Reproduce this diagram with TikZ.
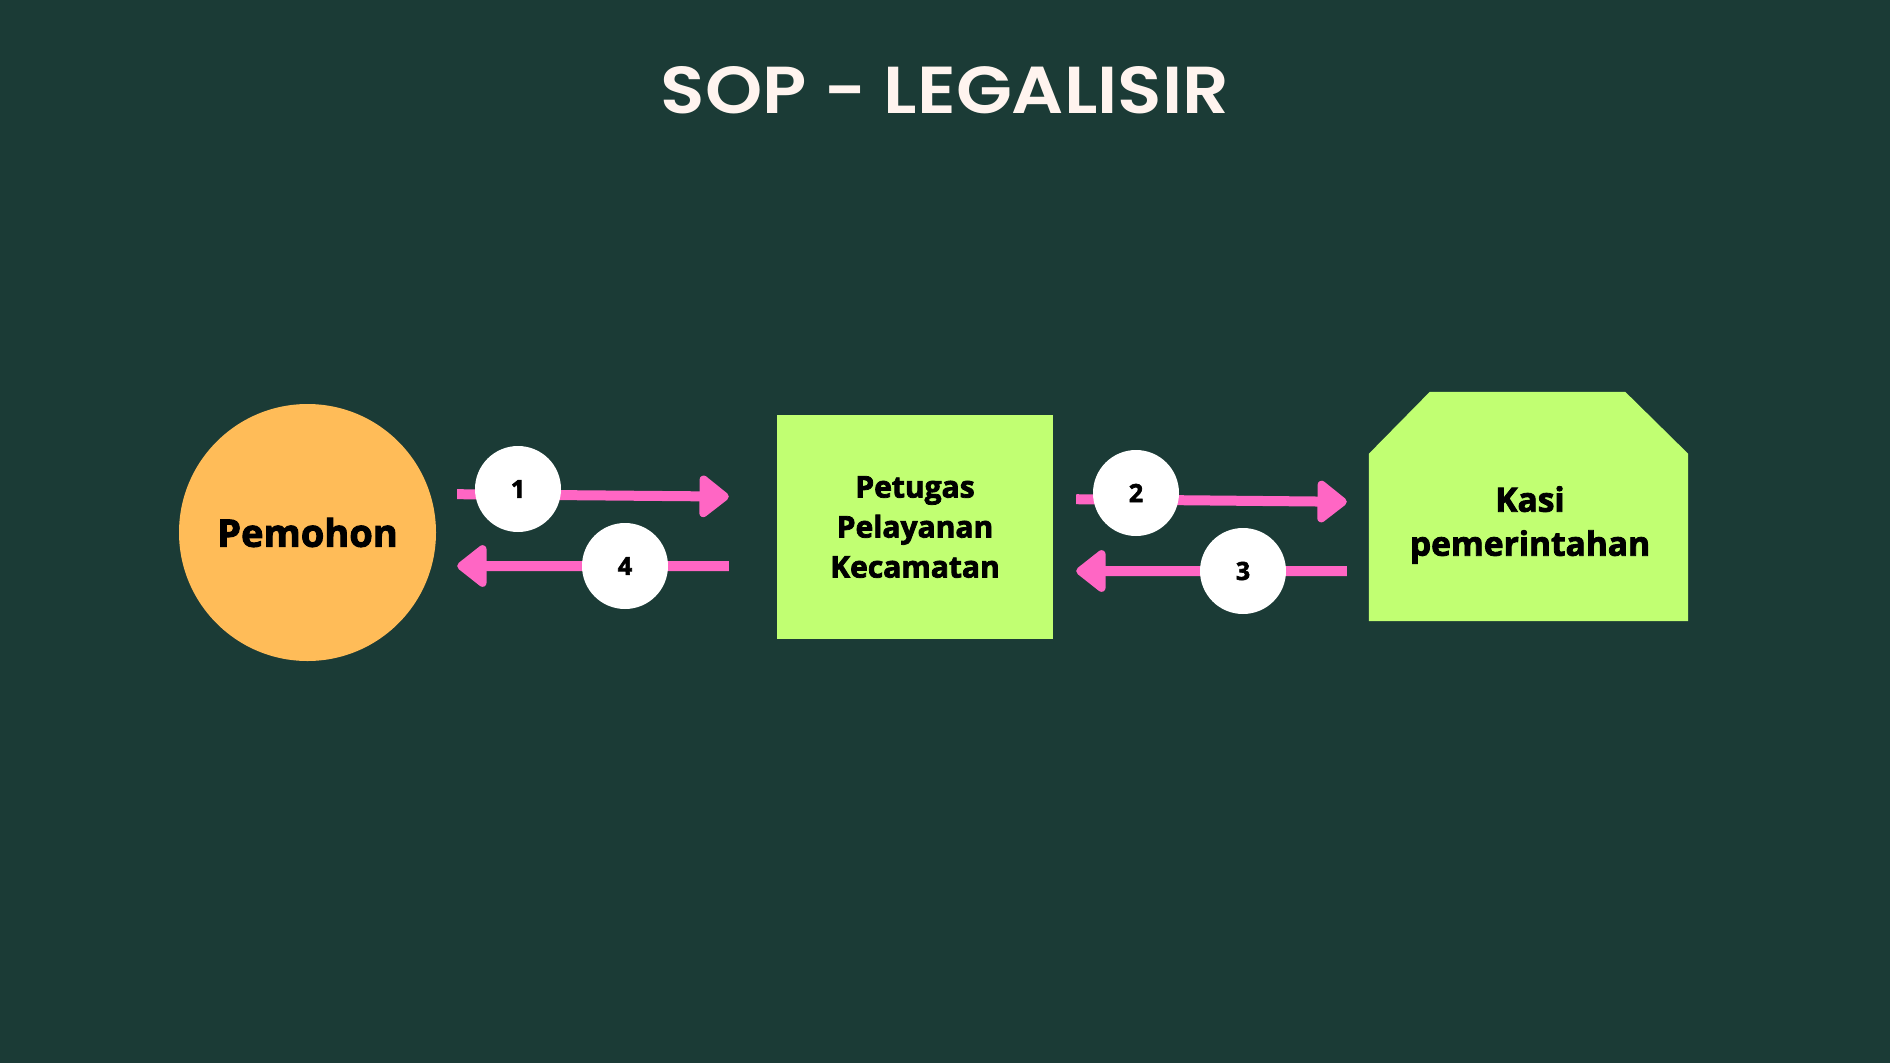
\documentclass[tikz,border=0pt]{standalone}
\usepackage{fontspec}
\setmainfont{Open Sans}[BoldFeatures={FakeBold=2.5}]
\newfontfamily\titlefont{Poppins}[UprightFont={* SemiBold}]
\usetikzlibrary{arrows.meta}
\definecolor{bg}{HTML}{1B3B36}
\definecolor{orangec}{HTML}{FFBC58}
\definecolor{limec}{HTML}{C1FF72}
\definecolor{pinkc}{HTML}{FF66C4}
\definecolor{titlec}{HTML}{FFF4EF}
\tikzset{
  flow/.style={draw=pinkc, line width=10bp, -{Triangle[length=32bp,width=48bp,round]}},
  numc/.style={circle, fill=white, minimum size=86bp, inner sep=0pt, font=\fontsize{25bp}{30bp}\selectfont\bfseries},
  lbl/.style={font=\fontsize{30bp}{40bp}\selectfont\bfseries, align=center, text=black},
}
\begin{document}
\begin{tikzpicture}[x=1bp,y=-1bp]
\fill[bg] (0,0) rectangle (1890,1063);
\useasboundingbox (0,0) rectangle (1890,1063);
\node[text=titlec, inner sep=0pt] (title) at (945,90) {\resizebox{568bp}{47bp}{\titlefont SOP - LEGALISIR}};
\node[circle, fill=orangec, minimum size=257bp, inner sep=0pt, font=\fontsize{38bp}{44bp}\selectfont\bfseries] (pem) at (307.5,532.5) {Pemohon};
\node[rectangle, fill=limec, minimum width=276bp, minimum height=224bp, inner sep=0pt, lbl] (pet) at (915,527) {Petugas\\Pelayanan\\Kecamatan};
\node[rectangle, minimum width=319bp, minimum height=229bp, inner sep=0pt] (kasi) at (1528.5,506.5) {};
\fill[limec] (kasi.south west) -- ([yshift=-62bp]kasi.north west) -- ([xshift=61bp]kasi.north west)
  -- ([xshift=-63bp]kasi.north east) -- ([yshift=-62bp]kasi.north east) -- (kasi.south east) -- cycle;
\node[lbl, font=\fontsize{33.5bp}{44bp}\selectfont\bfseries] (kasit) at (1530,525) {Kasi\\pemerintahan};
% arrows
\draw[flow, shorten <=21bp, shorten >=48bp] ([yshift=38.5bp]pem.east) -- ([yshift=30bp]pet.west);
\draw[flow, shorten <=48bp, shorten >=21bp] ([yshift=-39bp]pet.west) -- ([yshift=-33.5bp]pem.east);
\draw[flow, shorten <=23bp, shorten >=22bp] ([yshift=28bp]pet.east) -- ([yshift=4.5bp]kasi.west);
\draw[flow, shorten <=22bp, shorten >=23bp] ([yshift=-64.5bp]kasi.west) -- ([yshift=-44bp]pet.east);
% number badges
\node[numc] (n1) at (518,489) {1};
\node[numc] (n4) at (625,566) {4};
\node[numc] (n2) at (1136,493) {2};
\node[numc] (n3) at (1243,571) {3};
\end{tikzpicture}
\end{document}
